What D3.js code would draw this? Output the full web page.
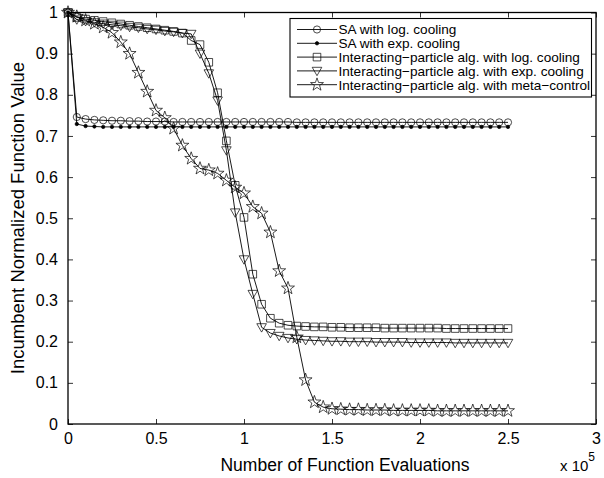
<!DOCTYPE html>
<html><head><meta charset="utf-8">
<script src="https://cdn.jsdelivr.net/npm/d3@7"></script>
<style>
body{margin:0;background:#fff}
svg{display:block}
text{font-family:"Liberation Sans",Arial,Helvetica,sans-serif;fill:#000}
</style>
</head><body>
<svg id="chart" width="604" height="478"></svg>
<script>
// x values in units of 1e5 function evaluations
const evals = [
  0,0.05,0.1,0.15,0.2,0.25,0.3,0.35,0.4,0.45,
  0.5,0.55,0.6,0.65,0.7,0.75,0.8,0.85,0.9,0.95,
  1,1.05,1.1,1.15,1.2,1.25,1.3,1.35,1.4,1.45,
  1.5,1.55,1.6,1.65,1.7,1.75,1.8,1.85,1.9,1.95,
  2,2.05,2.1,2.15,2.2,2.25,2.3,2.35,2.4,2.45,
  2.5
];
const saLog = [
  1.000,0.746,0.741,0.739,0.738,0.737,0.737,0.736,0.736,0.735,
  0.735,0.735,0.734,0.734,0.734,0.734,0.734,0.734,0.734,0.734,
  0.734,0.734,0.734,0.734,0.734,0.734,0.733,0.733,0.733,0.733,
  0.733,0.733,0.733,0.733,0.733,0.733,0.733,0.733,0.733,0.733,
  0.733,0.733,0.733,0.733,0.733,0.733,0.733,0.733,0.733,0.733,
  0.733
];
const saExp = [
  1.000,0.729,0.724,0.723,0.722,0.722,0.722,0.722,0.722,0.722,
  0.722,0.722,0.722,0.722,0.722,0.722,0.722,0.722,0.722,0.722,
  0.722,0.722,0.722,0.722,0.722,0.722,0.722,0.722,0.722,0.722,
  0.722,0.722,0.722,0.722,0.722,0.722,0.722,0.722,0.722,0.722,
  0.722,0.722,0.722,0.722,0.722,0.722,0.722,0.722,0.722,0.722,
  0.722
];
const ipLog = [
  1.000,0.988,0.984,0.981,0.978,0.975,0.972,0.969,0.966,0.963,
  0.960,0.957,0.954,0.950,0.932,0.922,0.879,0.805,0.688,0.580,
  0.502,0.364,0.291,0.257,0.245,0.240,0.238,0.237,0.236,0.236,
  0.235,0.235,0.234,0.234,0.234,0.234,0.233,0.233,0.233,0.233,
  0.233,0.233,0.233,0.232,0.232,0.232,0.232,0.232,0.232,0.232,
  0.232
];
const ipExp = [
  1.000,0.983,0.979,0.976,0.973,0.970,0.968,0.965,0.963,0.960,
  0.958,0.955,0.953,0.950,0.948,0.900,0.852,0.786,0.665,0.514,
  0.400,0.316,0.235,0.221,0.214,0.209,0.206,0.204,0.203,0.202,
  0.201,0.201,0.200,0.200,0.200,0.199,0.199,0.199,0.199,0.198,
  0.198,0.198,0.198,0.198,0.197,0.197,0.197,0.197,0.197,0.197,
  0.197
];
const ipMeta = [
  1.000,0.990,0.981,0.973,0.964,0.951,0.928,0.900,0.854,0.808,
  0.762,0.744,0.718,0.677,0.645,0.621,0.617,0.609,0.592,0.575,
  0.561,0.528,0.512,0.466,0.372,0.330,0.211,0.107,0.053,0.041,
  0.037,0.036,0.035,0.035,0.034,0.034,0.034,0.033,0.033,0.033,
  0.033,0.033,0.032,0.032,0.032,0.032,0.032,0.032,0.032,0.032,
  0.032
];
const seriesNames = [
  "SA with log. cooling",
  "SA with exp. cooling",
  "Interacting\u2212particle alg. with log. cooling",
  "Interacting\u2212particle alg. with exp. cooling",
  "Interacting\u2212particle alg. with meta\u2212control"
];
const seriesValues = [saLog, saExp, ipLog, ipExp, ipMeta];
const seriesMarkers = ["circle","dot","square","triangle","star"];
const xTicks = [0,0.5,1,1.5,2,2.5,3];
const yTicks = [0,0.1,0.2,0.3,0.4,0.5,0.6,0.7,0.8,0.9,1];

const svg = d3.select("#chart");
const L = 68, R = 596, T = 12.5, B = 424;
const x = d3.scaleLinear().domain([0,3]).range([L,R]);
const y = d3.scaleLinear().domain([0,1]).range([B,T]);

function markerPath(type){
  if(type==="circle") return d3.symbol(d3.symbolCircle, Math.PI*3.6*3.6)();
  if(type==="dot") return d3.symbol(d3.symbolCircle, Math.PI*1.7*1.7)();
  if(type==="square") return d3.symbol(d3.symbolSquare, 7.6*7.6)();
  if(type==="triangle") return "M-4.8,-3.6L4.8,-3.6L0,4.8Z";
  if(type==="star"){
    const p=[];
    for(let k=0;k<10;k++){
      const a=-Math.PI/2+k*Math.PI/5, r=(k%2===0)?6.8:2.7;
      p.push([r*Math.cos(a), r*Math.sin(a)]);
    }
    return "M"+p.map(d=>d[0].toFixed(2)+","+d[1].toFixed(2)).join("L")+"Z";
  }
}

// axes (inward ticks, MATLAB style)
const fmt = d=>String(d);
svg.append("g").attr("transform",`translate(0,${B})`)
  .call(d3.axisBottom(x).tickValues(xTicks).tickFormat(fmt).tickSizeInner(-5).tickSizeOuter(0).tickPadding(9))
  .call(g=>{g.select(".domain").remove();g.selectAll("text").attr("font-size",16).attr("font-family",null);});
svg.append("g").attr("transform",`translate(0,${T})`)
  .call(d3.axisTop(x).tickValues(xTicks).tickFormat("").tickSizeInner(-5).tickSizeOuter(0))
  .call(g=>g.select(".domain").remove());
svg.append("g").attr("transform",`translate(${L},0)`)
  .call(d3.axisLeft(y).tickValues(yTicks).tickFormat(fmt).tickSizeInner(-5).tickSizeOuter(0).tickPadding(10))
  .call(g=>{g.select(".domain").remove();g.selectAll("text").attr("font-size",16).attr("font-family",null);});
svg.append("g").attr("transform",`translate(${R},0)`)
  .call(d3.axisRight(y).tickValues(yTicks).tickFormat("").tickSizeInner(-5).tickSizeOuter(0))
  .call(g=>g.select(".domain").remove());
svg.selectAll(".tick line").attr("stroke","#000").attr("stroke-width",0.8);

// series
const line = d3.line().x((d,i)=>x(evals[i])).y(d=>y(d));
seriesValues.forEach((vals,si)=>{
  const g = svg.append("g");
  g.append("path").attr("d",line(vals)).attr("fill","none").attr("stroke","#000").attr("stroke-width",0.9);
  const mp = markerPath(seriesMarkers[si]);
  g.selectAll("path.m").data(vals).join("path").attr("class","m")
    .attr("d",mp)
    .attr("transform",(d,i)=>`translate(${x(evals[i])},${y(d)})`)
    .attr("fill",seriesMarkers[si]==="dot"?"#000":"none")
    .attr("stroke","#000").attr("stroke-width",0.7);
});

// frame
svg.append("rect").attr("x",L).attr("y",T).attr("width",R-L).attr("height",B-T)
  .attr("fill","none").attr("stroke","#000").attr("stroke-width",1.3);

// legend
const lg = svg.append("g");
lg.append("rect").attr("x",290).attr("y",18.5).attr("width",301.5).attr("height",78.5)
  .attr("fill","#fff").attr("stroke","#000").attr("stroke-width",1.1);
seriesNames.forEach((name,i)=>{
  const yy = 29.5 + i*13.8;
  lg.append("line").attr("x1",297).attr("x2",337).attr("y1",yy).attr("y2",yy).attr("stroke","#000").attr("stroke-width",0.9);
  lg.append("path").attr("d",markerPath(seriesMarkers[i])).attr("transform",`translate(317,${yy})`)
    .attr("fill",seriesMarkers[i]==="dot"?"#000":"none").attr("stroke","#000").attr("stroke-width",0.7);
  lg.append("text").attr("x",338.5).attr("y",yy+4.8).attr("font-size",13.6).text(name);
});

// axis labels
svg.append("text").attr("x",345).attr("y",471).attr("text-anchor","middle").attr("font-size",17.5)
  .text("Number of Function Evaluations");
svg.append("text").attr("transform","translate(24,218) rotate(-90)").attr("text-anchor","middle").attr("font-size",18.5)
  .text("Incumbent Normalized Function Value");
const ex = svg.append("text").attr("x",560).attr("y",471).attr("font-size",15);
ex.append("tspan").text("x 10");
ex.append("tspan").attr("dy",-10).attr("font-size",12).text("5");
</script>
</body></html>
